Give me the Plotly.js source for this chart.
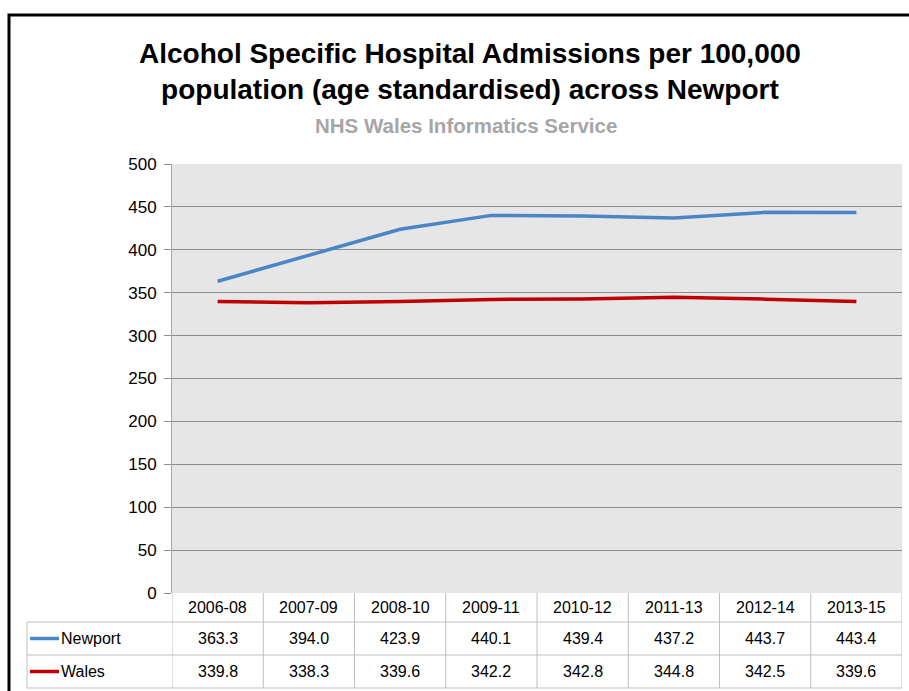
<!DOCTYPE html>
<html><head><meta charset="utf-8">
<script src="https://cdn.plot.ly/plotly-3.0.1.min.js"></script>
<style>html,body{margin:0;padding:0;background:#fff;}#chart{width:909px;height:691px;}</style>
</head><body><div id="chart"></div>
<script>
const categories = ["2006-08","2007-09","2008-10","2009-11","2010-12","2011-13","2012-14","2013-15"];
const newport = [363.3,394.0,423.9,440.1,439.4,437.2,443.7,443.4];
const wales = [339.8,338.3,339.6,342.2,342.8,344.8,342.5,339.6];
const seriesNames = ["Newport","Wales"];
const seriesColors = ["#4a86c5","#c00000"];

const W=909,H=691,L=172,R=902,T=164,B=593;
const pw=R-L, ph=B-T;
const px = v => (v-L)/pw;
const py = v => (B-v)/ph;
const FONT = "Liberation Sans, Arial, sans-serif";
const xs = categories.map((c,i)=>i);
const seriesData=[newport,wales];

const traces = seriesData.map((d,k)=>({
  x: xs, y: d, type:'scatter', mode:'lines', name: seriesNames[k],
  line:{color:seriesColors[k], width:3.5}, hoverinfo:'skip'
}));

const shapes=[], annotations=[];
const gridC="#bfbfbf";
shapes.push({type:'rect',xref:'paper',yref:'paper',x0:px(9),x1:px(915),y0:py(15),y1:py(700),line:{color:'#000',width:3},layer:'above'});
[622,655,688].forEach(yy=>shapes.push({type:'line',xref:'paper',yref:'paper',x0:px(27),x1:px(R),y0:py(yy),y1:py(yy),line:{color:gridC,width:1}}));
shapes.push({type:'line',xref:'paper',yref:'paper',x0:px(27),x1:px(27),y0:py(622),y1:py(688),line:{color:gridC,width:1}});
for(let i=0;i<=categories.length;i++){
  shapes.push({type:'line',xref:'x',yref:'paper',x0:i-0.5,x1:i-0.5,y0:py(593),y1:py(688),line:{color:gridC,width:1}});
}
categories.forEach((c,i)=>annotations.push({x:i,xref:'x',y:py(607),yref:'paper',text:c,showarrow:false,font:{family:FONT,size:16,color:'#000'},xanchor:'center',yanchor:'middle'}));
const rowY=[638.5,671.5];
seriesData.forEach((d,k)=>{
  d.forEach((v,i)=>annotations.push({x:i,xref:'x',y:py(rowY[k]),yref:'paper',text:v.toFixed(1),showarrow:false,font:{family:FONT,size:16,color:'#000'},xanchor:'center',yanchor:'middle'}));
  shapes.push({type:'line',xref:'paper',yref:'paper',x0:px(30),x1:px(59),y0:py(rowY[k]),y1:py(rowY[k]),line:{color:seriesColors[k],width:3.5}});
  annotations.push({x:px(59),xref:'paper',y:py(rowY[k]),yref:'paper',text:seriesNames[k],showarrow:false,font:{family:FONT,size:16,color:'#000'},xanchor:'left',yanchor:'middle'});
});
annotations.push({x:px(470),xref:'paper',y:py(72),yref:'paper',text:"<b>Alcohol Specific Hospital Admissions per 100,000<br>population (age standardised) across Newport</b>",showarrow:false,font:{family:FONT,size:28,color:'#000'},xanchor:'center',yanchor:'middle'});
annotations.push({x:px(466),xref:'paper',y:py(125),yref:'paper',text:"<b>NHS Wales Informatics Service</b>",showarrow:false,font:{family:FONT,size:20.5,color:'#a6a6a6'},xanchor:'center',yanchor:'middle'});

const layout={
  width:W,height:H,
  margin:{l:L,r:W-R,t:T,b:H-B},
  paper_bgcolor:'#fff', plot_bgcolor:'#e6e6e6',
  showlegend:false,
  xaxis:{range:[-0.5,7.5],showticklabels:false,showgrid:false,zeroline:false,ticks:'',fixedrange:true,showline:false},
  yaxis:{range:[0,500],dtick:50,tick0:0,showgrid:true,gridcolor:'#8c8c8c',gridwidth:1,zeroline:false,
    showline:true,linecolor:'#a6a6a6',linewidth:1,ticks:'outside',ticklen:7,tickcolor:'#8c8c8c',
    tickfont:{family:FONT,size:17,color:'#000'},ticklabelstandoff:4},
  shapes, annotations
};
Plotly.newPlot('chart',traces,layout,{staticPlot:true});
</script></body></html>
